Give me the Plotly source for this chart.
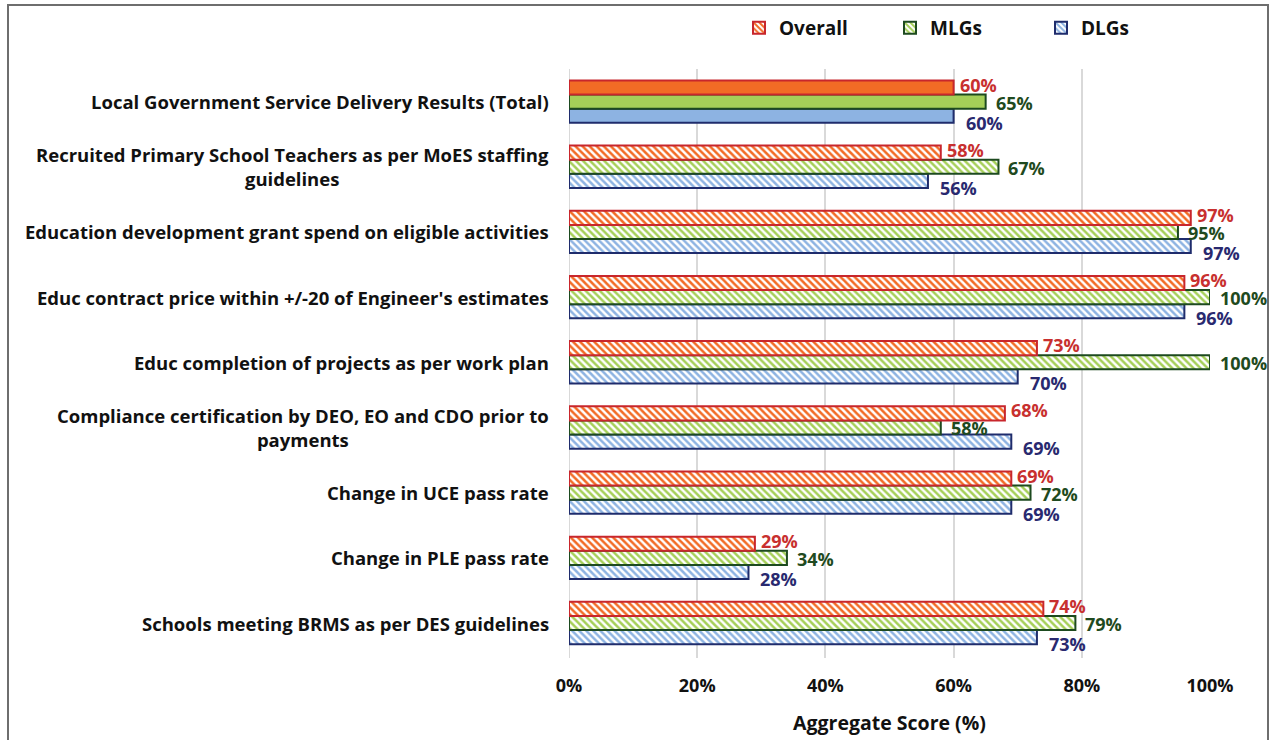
import plotly.graph_objects as go

# Indicators, listed top to bottom as displayed
categories = [
    "Local Government Service Delivery Results (Total)",
    "Recruited Primary School Teachers as per MoES staffing<br>guidelines",
    "Education development grant spend on eligible activities",
    "Educ contract price within +/-20 of Engineer's estimates",
    "Educ completion of projects as per work plan",
    "Compliance certification by DEO, EO and CDO prior to<br>payments",
    "Change in UCE pass rate",
    "Change in PLE pass rate",
    "Schools meeting BRMS as per DES guidelines",
]
overall = [60, 58, 97, 96, 73, 68, 69, 29, 74]
mlgs = [65, 67, 95, 100, 100, 58, 72, 34, 79]
dlgs = [60, 56, 97, 96, 70, 69, 69, 28, 73]

tick_vals = [0, 20, 40, 60, 80, 100]
tick_text = ["0%", "20%", "40%", "60%", "80%", "100%"]

FONT = "Open Sans"

# name, values, fill, outline, label colour, label x/y offsets (px)
series = [
    ("Overall", overall, "#F26B25", "#C8262C", "#C8302F", 4, 17),
    ("MLGs", mlgs, "#A5CF58", "#1D4A1F", "#1F4A20", 8, -1),
    ("DLGs", dlgs, "#8DB3E2", "#1F2C6C", "#29296F", 10, -21),
]

# plotted bottom-to-top so the total row sits at the top of the axis
cats_plot = categories[::-1]
shapes_plot = ["\\"] * (len(categories) - 1) + [""]   # total row drawn solid

fig = go.Figure()
for name, vals, fill, edge, _, _, _ in reversed(series):
    fig.add_trace(go.Bar(
        y=cats_plot,
        x=vals[::-1],
        name=name,
        orientation="h",
        marker=dict(
            color=fill,
            line=dict(color=edge, width=2),
            pattern=dict(shape=shapes_plot, fgcolor=fill, bgcolor="white",
                         size=5, solidity=0.5, fillmode="replace"),
        ),
        hoverinfo="x+y+name",
    ))

annotations = []
for name, vals, fill, edge, lab, dx, dy in series:
    for cat, v in zip(categories, vals):
        annotations.append(dict(
            x=v, y=cat, xref="x", yref="y", text=f"{v}%",
            showarrow=False, xanchor="left", yanchor="middle",
            xshift=dx, yshift=dy,
            font=dict(family=FONT, size=18, color=lab, weight="bold"),
        ))

# category labels, centred line by line and right-aligned to the axis
for cat in categories:
    annotations.append(dict(
        x=0, y=cat, xref="paper", yref="y", text=cat,
        showarrow=False, xanchor="right", yanchor="middle", align="center",
        xshift=-18,
        font=dict(family=FONT, size=18.5, color="#111111", weight="bold"),
    ))

W, H = 1271, 740
L, R, T, B = 569, 61, 69, 82
pw, ph = W - L - R, H - T - B

fig.update_layout(
    width=W, height=H,
    margin=dict(l=L, r=R, t=T, b=B, autoexpand=False),
    paper_bgcolor="white", plot_bgcolor="white",
    barmode="group", bargap=0.35, bargroupgap=0,
    font=dict(family=FONT, color="#111111"),
    showlegend=True,
    legend=dict(
        orientation="h", x=(739 - L) / pw, xanchor="left",
        y=(H - B - 28) / ph, yanchor="middle",
        traceorder="reversed", entrywidth=106, entrywidthmode="pixels",
        font=dict(family=FONT, size=19, color="#111111", weight="bold"),
        bgcolor="rgba(0,0,0,0)",
    ),
    xaxis=dict(
        range=[0, 100], tickvals=tick_vals, ticktext=tick_text,
        showgrid=True, gridcolor="#D9D9D9", gridwidth=2,
        zeroline=False, showline=False, ticks="",
        ticklabelstandoff=15, automargin=False,
        tickfont=dict(family=FONT, size=18, color="#111111", weight="bold"),
        title=dict(text="Aggregate Score (%)", standoff=20,
                   font=dict(family=FONT, size=19.5, color="#111111", weight="bold")),
        fixedrange=True,
    ),
    yaxis=dict(
        categoryorder="array", categoryarray=cats_plot,
        showticklabels=False, showgrid=False, zeroline=False,
        showline=False, ticks="", fixedrange=True, automargin=False,
    ),
    annotations=annotations,
    shapes=[
        # outer chart frame
        dict(type="rect", xref="paper", yref="paper",
             x0=(8 - L) / pw, x1=(1268 - L) / pw,
             y0=(H - B - 760) / ph, y1=(H - B - 5) / ph,
             line=dict(color="#6E6E6E", width=2), fillcolor="rgba(0,0,0,0)",
             layer="below"),
        # category axis line at 0%
        dict(type="line", xref="x", yref="paper", x0=0, x1=0, y0=0, y1=1,
             line=dict(color="#D9D9D9", width=2), layer="below"),
    ],
)

fig.write_html("out.html")
